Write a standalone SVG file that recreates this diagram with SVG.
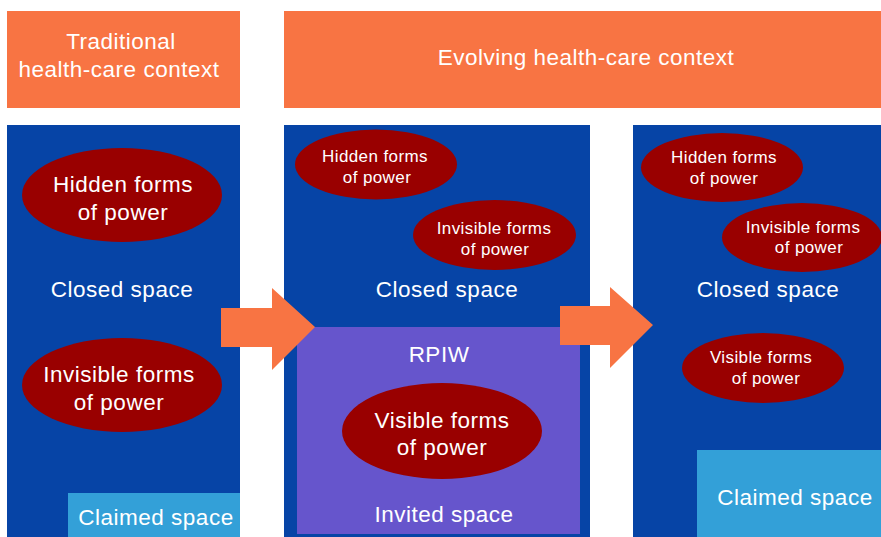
<svg xmlns="http://www.w3.org/2000/svg" width="881" height="537" viewBox="0 0 881 537">
  <style>
    text { font-family: "Liberation Sans", Arial, sans-serif; fill: #ffffff; text-anchor: middle; }
    .hdr { fill: #F87443; }
    .panel { fill: #0644A6; }
    .claimed { fill: #33A0D8; }
    .invited { fill: #6655CC; }
    .power { fill: #990000; }
    .arrow { fill: #F87443; }
    .big { font-size: 22.5px; letter-spacing: 0.5px; }
    .small { font-size: 17px; letter-spacing: 0.4px; }
  </style>
  <rect width="881" height="537" fill="#ffffff"/>

  <!-- column headers -->
  <g id="header-traditional">
    <rect class="hdr" x="7" y="11" width="233" height="97"/>
    <text class="big" x="121" y="49">Traditional</text>
    <text class="big" x="119" y="77">health-care context</text>
  </g>
  <g id="header-evolving">
    <rect class="hdr" x="284" y="11" width="597" height="97"/>
    <text class="big" x="586" y="65">Evolving health-care context</text>
  </g>

  <!-- traditional context panel -->
  <g id="panel-traditional">
    <rect class="panel" x="7" y="125" width="233" height="412"/>
    <text class="big" x="122" y="297">Closed space</text>
  </g>
  <g id="trad-hidden">
    <ellipse class="power" cx="122" cy="195" rx="100" ry="47"/>
    <text class="big" x="123" y="192">Hidden forms</text>
    <text class="big" x="123" y="220">of power</text>
  </g>
  <g id="trad-invisible">
    <ellipse class="power" cx="122" cy="385" rx="100" ry="47"/>
    <text class="big" x="119" y="382">Invisible forms</text>
    <text class="big" x="119" y="410">of power</text>
  </g>
  <g id="trad-claimed">
    <rect class="claimed" x="68" y="493" width="172" height="44"/>
    <text class="big" x="156" y="525">Claimed space</text>
  </g>

  <!-- evolving context: with RPIW -->
  <g id="panel-rpiw">
    <rect class="panel" x="284" y="125" width="306" height="412"/>
    <text class="big" x="447" y="297">Closed space</text>
  </g>
  <g id="rpiw-hidden">
    <ellipse class="power" cx="376" cy="164.5" rx="81" ry="35"/>
    <text class="small" x="375" y="162">Hidden forms</text>
    <text class="small" x="377" y="183">of power</text>
  </g>
  <g id="rpiw-invisible">
    <ellipse class="power" cx="494.5" cy="235" rx="81.5" ry="35"/>
    <text class="small" x="494" y="234">Invisible forms</text>
    <text class="small" x="495" y="255">of power</text>
  </g>
  <g id="rpiw-invited">
    <rect class="invited" x="297" y="327" width="283" height="207"/>
    <text class="big" x="439" y="362">RPIW</text>
    <text class="big" x="444" y="522">Invited space</text>
  </g>
  <g id="rpiw-visible">
    <ellipse class="power" cx="442" cy="431" rx="100" ry="48"/>
    <text class="big" x="442" y="428">Visible forms</text>
    <text class="big" x="442" y="455">of power</text>
  </g>

  <!-- evolving context: after RPIW -->
  <g id="panel-after">
    <rect class="panel" x="633" y="125" width="248" height="412"/>
    <text class="big" x="768" y="297">Closed space</text>
  </g>
  <g id="after-hidden">
    <ellipse class="power" cx="722" cy="167.5" rx="81" ry="34.5"/>
    <text class="small" x="724" y="163">Hidden forms</text>
    <text class="small" x="724" y="184">of power</text>
  </g>
  <g id="after-invisible">
    <ellipse class="power" cx="802" cy="237.5" rx="80" ry="34.5"/>
    <text class="small" x="803" y="233">Invisible forms</text>
    <text class="small" x="809" y="253">of power</text>
  </g>
  <g id="after-visible">
    <ellipse class="power" cx="763" cy="368" rx="81" ry="35"/>
    <text class="small" x="761" y="363">Visible forms</text>
    <text class="small" x="766" y="384">of power</text>
  </g>
  <g id="after-claimed">
    <rect class="claimed" x="697" y="450" width="184" height="87"/>
    <text class="big" x="795" y="505">Claimed space</text>
  </g>

  <!-- transition arrows -->
  <g id="connectors">
    <polygon class="arrow" points="221,308 272,308 272,288 315,327 272,370 272,347 221,347"/>
    <polygon class="arrow" points="560,306 610,306 610,287 653,325 610,368 610,345 560,345"/>
  </g>
</svg>
